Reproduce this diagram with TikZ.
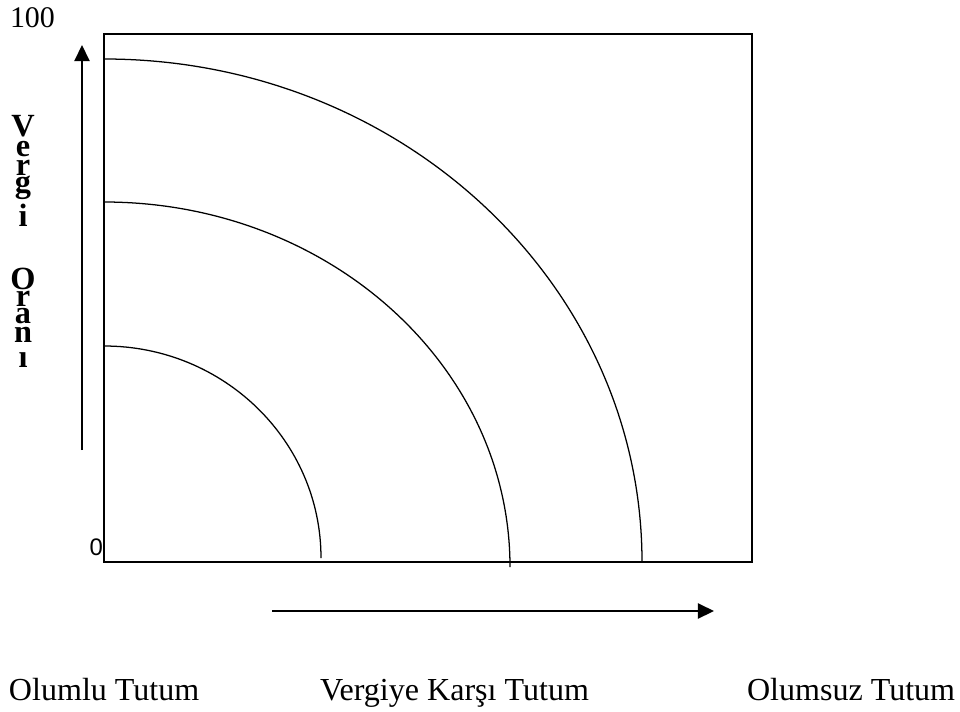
\documentclass[tikz,border=0pt]{standalone}
\usepackage{fontspec}
\setmainfont{Liberation Serif}
\newfontfamily\zerofont{Liberation Sans}
\usetikzlibrary{arrows.meta}
\begin{document}
\begin{tikzpicture}[x=0.025cm,y=-0.025cm,
  every node/.style={inner sep=0pt, outer sep=0pt},
  lbl/.style={anchor=base west, font=\fontsize{22.8}{27}\selectfont},
  ylbl/.style={anchor=base, font=\fontsize{23}{27}\selectfont\bfseries},
  frame/.style={line width=0.9pt},
  curve/.style={line width=0.9pt},
  axis/.style={line width=1.4pt, -{Triangle[length=11.4pt,width=10.7pt]}}]
\useasboundingbox (0,0) rectangle (960,711);
\draw[frame] (104,34) rectangle (752,562);
% quarter curves
\draw[curve] (104,59) arc[start angle=-90,end angle=0,x radius=538,y radius=503];
\draw[curve] (104,202) arc[start angle=-90,end angle=0,x radius=406,y radius=365];
\draw[curve] (104,346) arc[start angle=-90,end angle=0,x radius=217,y radius=212];
% arrows
\coordinate (ybot) at (82,450);
\coordinate (ytop) at (82,45);
\draw[axis] (ybot) -- (ytop);
\coordinate (xleft) at (272,611);
\coordinate (xright) at (714,611);
\draw[axis] (xleft) -- (xright);
% scale marks
\node[lbl, font=\fontsize{21.3}{25}\selectfont] (hundred) at (10,27) {100};
\node[anchor=base east, font=\fontsize{17}{20}\selectfont\zerofont] (zero) at (103,555) {0};
% vertical label, one letter a line
\foreach \ch/\yy [count=\i] in {V/136,e/156,r/175,g/192,i/226,O/289,r/306,a/323,n/342,ı/367}
  \node[ylbl] (oran-\i) at (23,\yy) {\ch};
% bottom labels
\node[lbl] (olumlu) at (9,700) {Olumlu Tutum};
\node[lbl] (karsi) at (320,700) {Vergiye Karşı Tutum};
\node[lbl] (olumsuz) at (747,700) {Olumsuz Tutum};
\end{tikzpicture}
\end{document}
